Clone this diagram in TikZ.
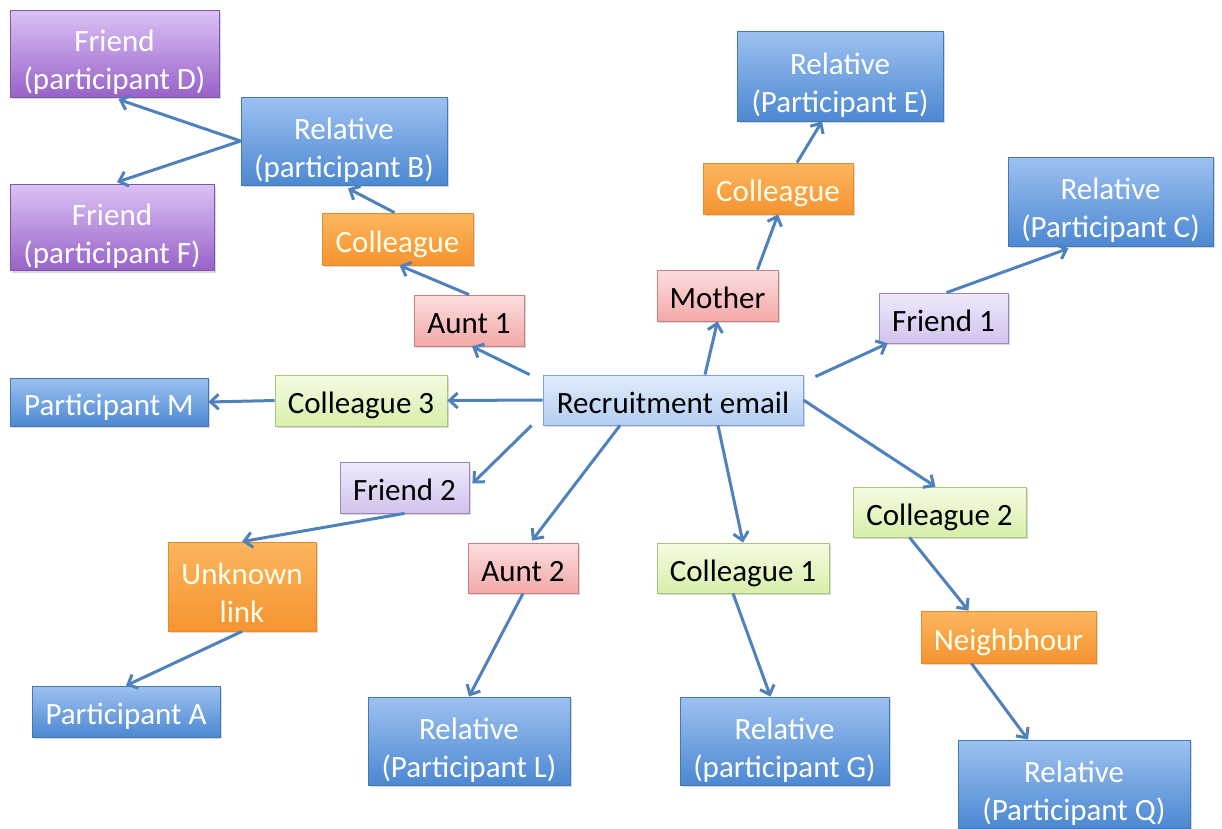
\documentclass[tikz,border=0pt]{standalone}
\usepackage{fontspec}
\setmainfont{Carlito}
\usepackage{tikz}
\usetikzlibrary{arrows.meta,shadows}

\definecolor{relTop}{HTML}{9DC1F0}
\definecolor{relBot}{HTML}{4C88D2}
\definecolor{relLine}{HTML}{4477B8}
\definecolor{purTop}{HTML}{DBC2F6}
\definecolor{purBot}{HTML}{9862C8}
\definecolor{purLine}{HTML}{7E58A6}
\definecolor{oraTop}{HTML}{FBB65E}
\definecolor{oraBot}{HTML}{F69330}
\definecolor{oraLine}{HTML}{E98B2C}
\definecolor{pinTop}{HTML}{FCDEDE}
\definecolor{pinBot}{HTML}{F4A8A8}
\definecolor{pinLine}{HTML}{C98080}
\definecolor{greTop}{HTML}{F4FBE2}
\definecolor{greBot}{HTML}{D8EFAA}
\definecolor{greLine}{HTML}{A8C47A}
\definecolor{lilTop}{HTML}{F0E9FB}
\definecolor{lilBot}{HTML}{D2C2EE}
\definecolor{lilLine}{HTML}{9A88BB}
\definecolor{staTop}{HTML}{E2EDFC}
\definecolor{staBot}{HTML}{B2CDF2}
\definecolor{staLine}{HTML}{7EA2D6}
\definecolor{linkBlue}{HTML}{4F81BD}

% two lines of text, one above the other
\newcommand{\twolines}[2]{\begin{tabular}{@{}c@{}}#1\\#2\end{tabular}}

\tikzset{
  box/.style={rectangle, line width=0.8pt, inner sep=0pt,
    font=\fontsize{31}{38}\selectfont,
    text height=26pt, text depth=0pt,
    drop shadow={shadow xshift=1.5pt, shadow yshift=-2pt, opacity=0.25, fill=black!60}},
  tall/.style={text height=32pt},
  relbox/.style={box, draw=relLine, top color=relTop, bottom color=relBot, text=white},
  purbox/.style={box, draw=purLine, top color=purTop, bottom color=purBot, text=white},
  orabox/.style={box, draw=oraLine, top color=oraTop, bottom color=oraBot, text=yellow!8},
  pinbox/.style={box, draw=pinLine, top color=pinTop, bottom color=pinBot, text=black},
  grebox/.style={box, draw=greLine, top color=greTop, bottom color=greBot, text=black},
  lilbox/.style={box, draw=lilLine, top color=lilTop, bottom color=lilBot, text=black},
  stabox/.style={box, draw=staLine, top color=staTop, bottom color=staBot, text=black},
  link/.style={draw=linkBlue, line width=3pt,
    -{Straight Barb[length=8pt,width=15pt,line width=3pt]}}
}

\begin{document}
\begin{tikzpicture}[x=1pt,y=-1pt]
  \useasboundingbox (0,0) rectangle (1222,828);

  % centre
  \node[stabox, minimum width=260, minimum height=50] (email) at (673,400) {Recruitment email};

  % upper left branch
  \node[purbox, tall, minimum width=209, minimum height=87] (frD) at (114.5,53.5) {\twolines{Friend}{(participant D)}};
  \node[purbox, tall, minimum width=204, minimum height=86] (frF) at (112,227.5) {\twolines{Friend}{(participant F)}};
  \node[relbox, tall, minimum width=206, minimum height=88] (relB) at (344,141) {\twolines{Relative}{(participant B)}};
  \node[orabox, minimum width=151, minimum height=52] (colB) at (397.5,239) {Colleague};
  \node[pinbox, minimum width=110, minimum height=51] (auntA) at (469,320.5) {Aunt 1};

  % left
  \node[grebox, minimum width=172, minimum height=51] (colC) at (361,400.5) {Colleague 3};
  \node[relbox, minimum width=198, minimum height=48] (partM) at (109,402) {Participant M};

  % top
  \node[pinbox, minimum width=121, minimum height=51] (mother) at (717.5,295.5) {Mother};
  \node[orabox, minimum width=150, minimum height=51] (colE) at (778,188.5) {Colleague};
  \node[relbox, tall, minimum width=206, minimum height=90] (relE) at (840,76) {\twolines{Relative}{(Participant E)}};

  % upper right
  \node[lilbox, minimum width=129, minimum height=50] (frA) at (943.5,318) {Friend 1};
  \node[relbox, tall, minimum width=205, minimum height=89] (relC) at (1110.5,201.5) {\twolines{Relative}{(Participant C)}};

  % lower left
  \node[lilbox, minimum width=129, minimum height=51] (frB) at (404.5,487.5) {Friend 2};
  \node[orabox, tall, minimum width=148, minimum height=89] (unknown) at (242,586.5) {\twolines{Unknown}{link}};
  \node[relbox, minimum width=188, minimum height=51] (partA) at (126,711.5) {Participant A};

  % bottom
  \node[pinbox, minimum width=110, minimum height=50] (auntB) at (523,568) {Aunt 2};
  \node[relbox, tall, minimum width=202, minimum height=88] (relL) at (469,741) {\twolines{Relative}{(Participant L)}};
  \node[grebox, minimum width=172, minimum height=50] (colA) at (743,568) {Colleague 1};
  \node[relbox, tall, minimum width=209, minimum height=88] (relG) at (784.5,741) {\twolines{Relative}{(participant G)}};

  % lower right
  \node[grebox, minimum width=173, minimum height=50] (colD) at (939.5,512) {Colleague 2};
  \node[orabox, minimum width=175, minimum height=52] (neigh) at (1008.5,637) {Neighbhour};
  \node[relbox, tall, minimum width=232, minimum height=88] (relQ) at (1074,784) {\twolines{Relative}{(Participant Q)}};

  % connectors
  \draw[link] (relB.west) -- ([xshift=4,yshift=-2]frD.south);
  \draw[link] (relB.west) -- ([xshift=5,yshift=2]frF.north);
  \draw[link] ([xshift=-3]colB.north) -- ([xshift=4,yshift=-3]relB.south);
  \draw[link] (auntA.north) -- ([xshift=2]colB.south);
  \draw[link] ([xshift=-13]email.north west) -- ([xshift=3]auntA.south);
  \draw[link] (email.west) -- (colC.east);
  \draw[link] (colC.west) -- (partM.east);
  \draw[link] ([xshift=32]email.north) -- (mother.south);
  \draw[link] ([xshift=40]mother.north) -- (colE.south);
  \draw[link] ([xshift=19]colE.north) -- ([xshift=-18]relE.south);
  \draw[link] ([xshift=12,yshift=-2]email.north east) -- ([xshift=9]frA.south west);
  \draw[link] ([xshift=3]frA.north) -- ([xshift=-42,yshift=-2]relC.south);
  \draw[link] ([xshift=-11]email.south west) -- ([xshift=3,yshift=4]frB.east);
  \draw[link] (frB.south) -- (unknown.north);
  \draw[link] (unknown.south) -- (partA.north);
  \draw[link] ([xshift=-53]email.south) -- ([xshift=9,yshift=2]auntB.north);
  \draw[link] (auntB.south) -- (relL.north);
  \draw[link] ([xshift=45]email.south) -- (colA.north);
  \draw[link] ([xshift=-10]colA.south) -- ([xshift=-14]relG.north);
  \draw[link] (email.east) -- ([xshift=-4]colD.north);
  \draw[link] ([xshift=-30]colD.south) -- ([xshift=-40]neigh.north);
  \draw[link] ([xshift=-37]neigh.south) -- ([xshift=-46]relQ.north);
\end{tikzpicture}
\end{document}
